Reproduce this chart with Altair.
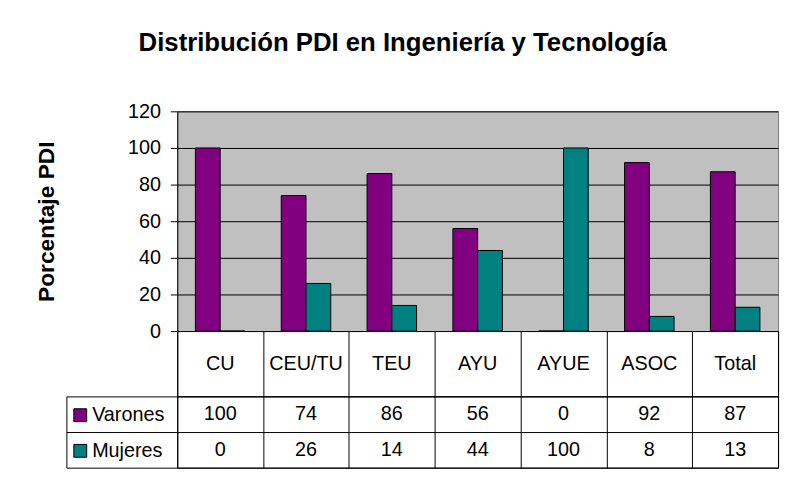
import altair as alt
import pandas as pd

# ---- data ----
categories = ["CU", "CEU/TU", "TEU", "AYU", "AYUE", "ASOC", "Total"]
varones = [100, 74, 86, 56, 0, 92, 87]
mujeres = [0, 26, 14, 44, 100, 8, 13]
series_names = ["Varones", "Mujeres"]
series_colors = ["#800080", "#008080"]
y_ticks = [0, 20, 40, 60, 80, 100, 120]

rows = []
for s, vals in zip(series_names, [varones, mujeres]):
    for c, v in zip(categories, vals):
        rows.append({"categoria": c, "serie": s, "valor": v})
df = pd.DataFrame(rows)
cat_df = pd.DataFrame({"categoria": categories})

FONT = "Liberation Sans"
W = 607

x_band = alt.Scale(domain=categories, paddingInner=0, paddingOuter=0)
color_scale = alt.Scale(domain=series_names, range=series_colors)
table_x_axis = alt.Axis(grid=True, tickBand="extent", labels=False, ticks=False,
                        domain=False, title=None, gridColor="black", gridOpacity=1,
                        gridWidth=1)

bars = alt.Chart(df).mark_bar(stroke="black", strokeWidth=1).encode(
    x=alt.X("categoria:N", scale=x_band, sort=categories, axis=None),
    xOffset=alt.XOffset("serie:N", sort=series_names,
                        scale=alt.Scale(domain=series_names, paddingInner=0, paddingOuter=0.734)),
    y=alt.Y("valor:Q", scale=alt.Scale(domain=[0, 120], nice=False),
            axis=alt.Axis(values=y_ticks, title="Porcentaje PDI", grid=True,
                          gridColor="black", gridOpacity=1, domainColor="black",
                          tickColor="black", tickSize=7, labelPadding=10,
                          labelFontSize=20, labelColor="black", labelFont=FONT,
                          titleFont=FONT, titleFontSize=23, titleFontWeight="bold",
                          titleColor="black", titlePadding=70)),
    color=alt.Color("serie:N", scale=color_scale, legend=None),
).properties(width=W, height=222,
             view=alt.ViewBackground(fill="#C0C0C0", stroke="#808080", strokeWidth=1))

cat_row = alt.Chart(cat_df).mark_text(fontSize=20, font=FONT, color="black").encode(
    x=alt.X("categoria:N", scale=x_band, sort=categories, axis=table_x_axis),
    text="categoria:N",
).properties(width=W, height=66,
             view=alt.ViewBackground(fill="white", stroke="black", strokeWidth=1))

row_scale = alt.Scale(domain=series_names, paddingInner=0, paddingOuter=0)

val_text = alt.Chart(df).mark_text(fontSize=20, font=FONT, color="black").encode(
    x=alt.X("categoria:N", scale=x_band, sort=categories, axis=table_x_axis),
    y=alt.Y("serie:N", scale=row_scale, sort=series_names,
            axis=alt.Axis(tickBand="extent", grid=True, gridColor="black", gridOpacity=1,
                          ticks=True, tickSize=112, tickColor="black", tickWidth=1,
                          labels=False, domain=False, title=None)),
    text="valor:Q",
)

legend_layer = alt.Chart(df).transform_filter("false").mark_square(
    size=169, opacity=1, stroke="black", strokeWidth=1, filled=True
).encode(
    y=alt.Y("serie:N", scale=row_scale, sort=series_names,
            axis=alt.Axis(orient="left", offset=112, domain=True, domainColor="black",
                          ticks=False, labels=False, grid=False, title=None)),
    color=alt.Color("serie:N", scale=color_scale,
                    legend=alt.Legend(orient="none", legendX=-108, legendY=9, title=None,
                                      symbolType="square", symbolSize=169,
                                      symbolStrokeColor="black", symbolStrokeWidth=1,
                                      labelFont=FONT, labelFontSize=20, labelColor="black",
                                      labelOffset=2, rowPadding=16, padding=0)),
)

values = alt.layer(val_text, legend_layer).resolve_scale(y="independent").properties(
    width=W, height=72,
    view=alt.ViewBackground(fill="white", stroke="black", strokeWidth=1))

chart = alt.vconcat(
    bars, cat_row, values, spacing=0, bounds="flush",
    title=alt.TitleParams("Distribución PDI en Ingeniería y Tecnología", font=FONT,
                          fontSize=26, fontWeight="bold", color="black",
                          anchor="middle", offset=45, dx=-4),
    padding={"left": 27, "top": 20, "right": 5, "bottom": 5},
).resolve_scale(color="independent").configure_view(stroke="black")

chart.save("out.html", embed_options={"renderer": "svg", "actions": False})
